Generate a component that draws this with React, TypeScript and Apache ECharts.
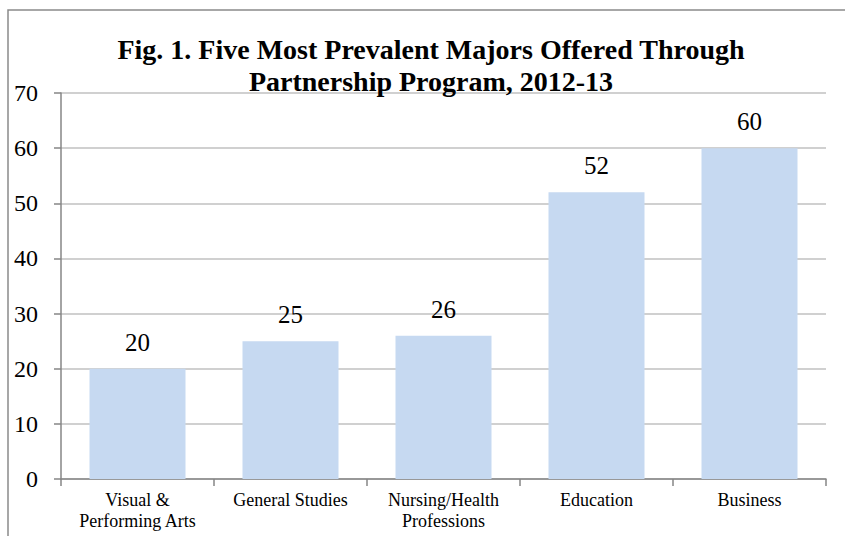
import React, { useEffect, useRef } from "react";
import * as echarts from "echarts";

const categories = [
  "Visual &\nPerforming Arts",
  "General Studies",
  "Nursing/Health\nProfessions",
  "Education",
  "Business",
];
const values = [20, 25, 26, 52, 60];
const yTicks = { min: 0, max: 70, interval: 10 };
const titleText = "Fig. 1. Five Most Prevalent Majors Offered Through\nPartnership Program, 2012-13";

const FONT = "Liberation Serif";

export default function App() {
  const ref = useRef<HTMLDivElement>(null);
  useEffect(() => {
    document.body.style.margin = "0";
    const chart = echarts.init(ref.current!, null, { renderer: "svg" });
    chart.setOption({
      animation: false,
      backgroundColor: "#ffffff",
      textStyle: { fontFamily: FONT },
      title: {
        text: titleText,
        left: 426,
        top: 28,
        textAlign: "center",
        textStyle: {
          fontFamily: FONT,
          fontWeight: "bold",
          fontSize: 28,
          lineHeight: 32,
          color: "#000000",
        },
      },
      graphic: [
        {
          type: "rect",
          shape: { x: 8, y: 10, width: 900, height: 700 },
          style: { fill: "none", stroke: "#8a8a8a", lineWidth: 1.5 },
          z: 100,
        },
      ],
      grid: { left: 61, right: 19, top: 93, bottom: 57, containLabel: false },
      xAxis: {
        type: "category",
        data: categories,
        axisLine: { show: true, lineStyle: { color: "#868686", width: 1.5 } },
        axisTick: { show: true, alignWithLabel: false, length: 7, lineStyle: { color: "#868686", width: 1.5 } },
        axisLabel: {
          interval: 0,
          margin: 10,
          fontFamily: FONT,
          fontSize: 18,
          lineHeight: 21,
          color: "#000000",
        },
      },
      yAxis: {
        type: "value",
        min: yTicks.min,
        max: yTicks.max,
        interval: yTicks.interval,
        axisLine: { show: true, lineStyle: { color: "#868686", width: 1.5 } },
        axisTick: { show: true, inside: false, length: 7, lineStyle: { color: "#868686", width: 1.5 } },
        splitLine: { show: true, lineStyle: { color: "#c0c0c0", width: 1.5 } },
        axisLabel: {
          margin: 23,
          fontFamily: FONT,
          fontSize: 24,
          color: "#000000",
        },
      },
      series: [
        {
          type: "bar",
          data: values,
          barWidth: 96,
          itemStyle: { color: "#c6d9f1" },
          label: {
            show: true,
            position: "top",
            distance: 14,
            fontFamily: FONT,
            fontSize: 25,
            color: "#000000",
          },
        },
      ],
    });
    return () => chart.dispose();
  }, []);
  return <div ref={ref} style={{ width: 845, height: 536 }} />;
}
